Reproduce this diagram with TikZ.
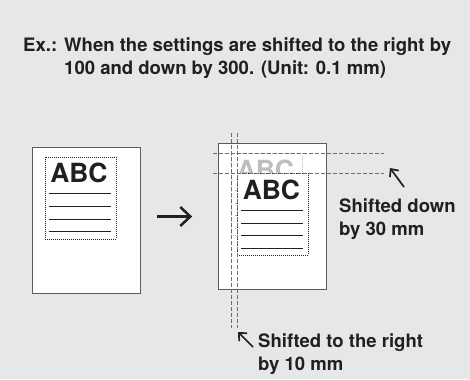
\documentclass[tikz,border=0pt]{standalone}
\usepackage{fontspec}
\setmainfont{TeX Gyre Heros}
\usepackage{xcolor}
\usetikzlibrary{arrows.meta,positioning}
\definecolor{fondo}{HTML}{E6E7E8}
\definecolor{tinta}{HTML}{231F20}
\definecolor{borde}{HTML}{5C5C5C}
\definecolor{guia}{HTML}{6E6E6E}
\definecolor{fantasma}{HTML}{BEBEBE}

\begin{document}
\begin{tikzpicture}[x=1bp, y=-1bp,
  hoja/.style={draw=borde, fill=white, line width=0.8bp, inner sep=0pt,
               minimum width=108bp, minimum height=146bp},
  zona/.style={draw=#1, fill=white, line width=0.7bp, dash pattern=on 1bp off 1bp,
               inner sep=0pt, minimum width=71bp, minimum height=82bp},
  abc/.style={text=#1, font=\fontsize{26.5}{26.5}\selectfont\bfseries, inner sep=0pt, anchor=base west},
  renglon/.style={draw=#1, line width=0.8bp},
  guiaL/.style={draw=guia, line width=0.7bp, dash pattern=on 4bp off 2bp},
  texto/.style={text=tinta, font=\fontsize{18.6}{23}\selectfont\bfseries, align=left,
                inner sep=0pt, anchor=north west},
  flecha/.style={-{Straight Barb[length=10bp, width=19bp]}, line width=2.5bp, tinta},
  flechita/.style={-{Straight Barb[length=6bp, width=11bp]}, line width=1.7bp, tinta}]
\fill[fondo] (0,0) rectangle (470,379);
\useasboundingbox (0,0) rectangle (470,379);

\node[texto] (ej) at (23,37.5) {Ex.:};
\node[texto] (titulo) at (64,37.5) {When the settings are shifted to the right by\\100 and down by 300. (Unit: 0.1 mm)};

\node[hoja] (hojaA) at (86,220) {};
\node[zona=tinta, below right=10bp and 13bp of hojaA.north west] (zonaA) {};
\node[abc=tinta] (abcA) at ([xshift=5.5bp, yshift=-26bp]zonaA.north west) {ABC};
\foreach \d in {37,50,62.5,75}
  \draw[renglon=tinta] ([xshift=4bp, yshift=-\d bp]zonaA.north west) -- ++(62,0);

\node[hoja] (hojaB) at (272.5,216.5) {};
\node[zona=fantasma, below right=10bp and 13bp of hojaB.north west] (fantasmaB) {};
\node[abc=fantasma] (abcF) at ([xshift=5.5bp, yshift=-26bp]fantasmaB.north west) {ABC};
\foreach \d in {37,50,62.5,75}
  \draw[renglon=fantasma] ([xshift=4bp, yshift=-\d bp]fantasmaB.north west) -- ++(62,0);
\node[zona=tinta, below right=20bp and 6bp of fantasmaB.north west] (zonaB) {};
\node[abc=tinta] (abcB) at ([xshift=5.5bp, yshift=-26bp]zonaB.north west) {ABC};
\foreach \d in {37,50,62.5,75}
  \draw[renglon=tinta] ([xshift=4bp, yshift=-\d bp]zonaB.north west) -- ++(62,0);

\draw[guiaL] ([xshift=-18bp]fantasmaB.north west) -- ([xshift=81bp]fantasmaB.north east);
\draw[guiaL] ([xshift=-24bp]zonaB.north west) -- ([xshift=75bp]zonaB.north east);
\draw[guiaL] ([yshift=20bp]fantasmaB.north west) -- ([yshift=-92bp]fantasmaB.south west);
\draw[guiaL] ([yshift=40bp]zonaB.north west) -- ([yshift=-72bp]zonaB.south west);

\draw[flecha] ([xshift=-61bp]hojaB.west) -- ([xshift=-26bp]hojaB.west);

\node[texto] (abajo) at (339,198.5) {Shifted down\\by 30 mm};
\coordinate (colaA) at (404,187);
\coordinate (puntaA) at (390,168);
\draw[flechita] (colaA) -- (puntaA);

\node[texto] (derecha) at (258,333.5) {Shifted to the right\\by 10 mm};
\coordinate (colaB) at (253,347);
\coordinate (puntaB) at (238,332);
\draw[flechita] (colaB) -- (puntaB);
\end{tikzpicture}
\end{document}
